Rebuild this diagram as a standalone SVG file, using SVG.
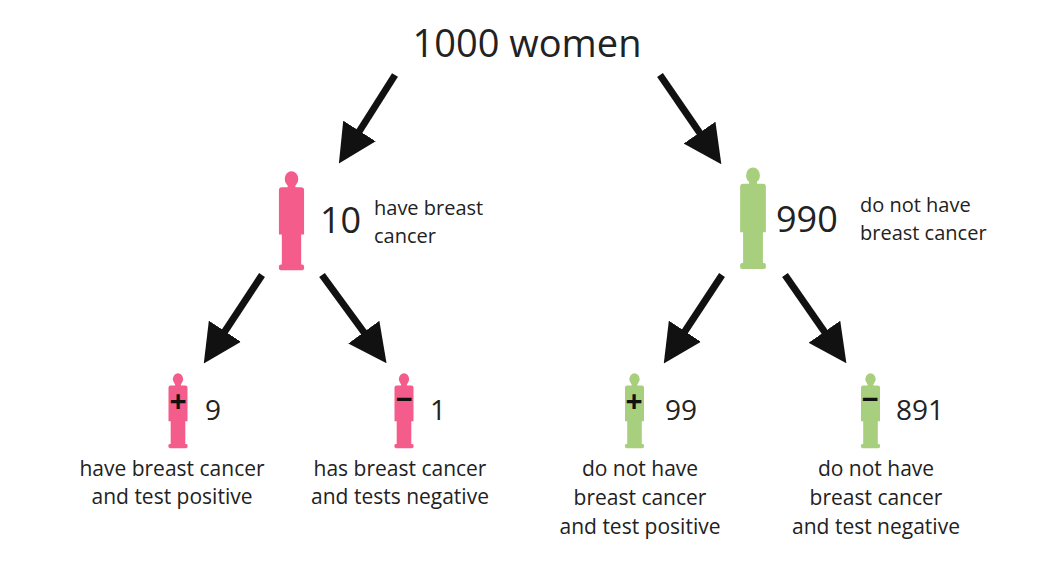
<svg xmlns="http://www.w3.org/2000/svg" xmlns:xlink="http://www.w3.org/1999/xlink" width="1054" height="566" viewBox="0 0 1054 566">
<style>
text{font-family:"Open Sans","Liberation Sans",sans-serif;fill:#222}
.c{font-size:21px;text-anchor:middle}
.s{font-size:20px}
.n{font-size:28px}
.b{font-size:36px}
.ar{stroke:#111;stroke-width:7;fill:none;marker-end:url(#ah)}
.pk{fill:#f45c8c}.gr{fill:#a8cf7e}
</style>
<defs>
<marker id="ah" viewBox="0 0 10 10" refX="8" refY="5" markerWidth="5.5" markerHeight="5.5" orient="auto" markerUnits="strokeWidth">
<path d="M0,0L10,5L0,10z" fill="#111"/>
</marker>
<symbol id="p" viewBox="0 0 30 104">
<ellipse cx="15" cy="8.5" rx="7" ry="8"/>
<rect x="11" y="12" width="8" height="8"/>
<path d="M2,20Q2,17 5,17H25Q28,17 28,20V66H25V98H5V66H2Z"/>
<rect x="2" y="97" width="26" height="6" rx="2"/>
</symbol>
</defs>
<text x="527" y="57" font-size="38" text-anchor="middle">1000 women</text>
<g id="connectors">
<line class="ar" x1="395" y1="75" x2="343" y2="157"/>
<line class="ar" x1="660" y1="75" x2="717" y2="158"/>
<line class="ar" x1="262" y1="275" x2="208" y2="357"/>
<line class="ar" x1="322" y1="275" x2="382" y2="357"/>
<line class="ar" x1="722" y1="275" x2="668" y2="357"/>
<line class="ar" x1="785" y1="275" x2="842" y2="357"/>
</g>
<g id="n-cancer">
<use href="#p" class="pk" x="277" y="170" width="29" height="102"/>
<text x="320" y="233" class="b">10</text>
<text x="374" y="215" class="s">have breast</text>
<text x="374" y="243" class="s">cancer</text>
</g>
<g id="n-nocancer">
<use href="#p" class="gr" x="738" y="167" width="30" height="103"/>
<text x="776" y="232" class="b">990</text>
<text x="860" y="212" class="s">do not have</text>
<text x="860" y="240" class="s">breast cancer</text>
</g>
<g id="n-tp">
<use href="#p" class="pk" x="166" y="373" width="24" height="76"/>
<text x="178" y="412" font-size="30" font-weight="bold" text-anchor="middle" style="fill:#111">+</text>
<text x="205" y="420" class="n">9</text>
<text x="172" y="476" class="c">have breast cancer</text>
<text x="172" y="504" class="c">and test positive</text>
</g>
<g id="n-fn">
<use href="#p" class="pk" x="392" y="373" width="24" height="76"/>
<text x="404" y="410" font-size="30" font-weight="bold" text-anchor="middle" style="fill:#111">−</text>
<text x="430" y="420" class="n">1</text>
<text x="400" y="476" class="c">has breast cancer</text>
<text x="400" y="504" class="c">and tests negative</text>
</g>
<g id="n-fp">
<use href="#p" class="gr" x="622" y="373" width="25" height="76"/>
<text x="634" y="412" font-size="30" font-weight="bold" text-anchor="middle" style="fill:#111">+</text>
<text x="665" y="420" class="n">99</text>
<text x="640" y="476" class="c">do not have</text>
<text x="640" y="505" class="c">breast cancer</text>
<text x="640" y="534" class="c">and test positive</text>
</g>
<g id="n-tn">
<use href="#p" class="gr" x="858" y="373" width="25" height="76"/>
<text x="870" y="410" font-size="30" font-weight="bold" text-anchor="middle" style="fill:#111">−</text>
<text x="896" y="420" class="n">891</text>
<text x="876" y="476" class="c">do not have</text>
<text x="876" y="505" class="c">breast cancer</text>
<text x="876" y="534" class="c">and test negative</text>
</g>
</svg>
